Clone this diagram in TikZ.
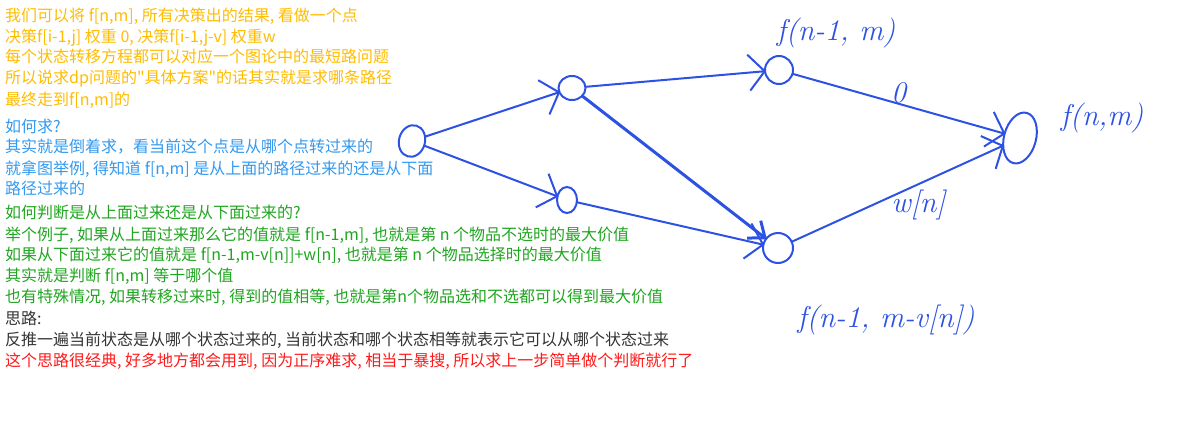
\documentclass[tikz,border=0pt]{standalone}
\usepackage{fontspec}
\newfontfamily\cjkfont{Noto Sans CJK SC}
\definecolor{noteOrange}{HTML}{FFBC00}
\definecolor{noteBlue}{HTML}{3399EE}
\definecolor{noteGreen}{HTML}{1FA51F}
\definecolor{noteGray}{HTML}{333333}
\definecolor{noteRed}{HTML}{FF1A1A}
\definecolor{penBlue}{HTML}{2D52E3}
\usetikzlibrary{
	arrows.meta,
	positioning,
	shapes.geometric
}

\begin{document}
\begin{tikzpicture}[x=1pt, y=-1pt,
		note/.style={anchor=base west, inner sep=0pt, font=\cjkfont\fontsize{16}{19}\selectfont},
		dot/.style={ellipse, draw=penBlue, line width=2pt, inner sep=0pt},
		pen/.style={-{Straight Barb[length=16pt,width=36pt]}, line width=2pt, draw=penBlue, line cap=round, shorten >=-2pt},
		hand/.style={text=penBlue, font=\itshape\fontsize{30}{30}\selectfont}
	]
		\useasboundingbox (0,0) rectangle (1182,444);
		% notes on the left
		\node[note, text=noteOrange] (o1) at (5,22) {我们可以将 f[n,m], 所有决策出的结果, 看做一个点};
		\node[note, text=noteOrange] (o2) at (5,42) {决策f[i-1,j] 权重 0, 决策f[i-1,j-v] 权重w};
		\node[note, text=noteOrange] (o3) at (5,63) {每个状态转移方程都可以对应一个图论中的最短路问题};
		\node[note, text=noteOrange] (o4) at (5,83) {所以说求dp问题的"具体方案"的话其实就是求哪条路径};
		\node[note, text=noteOrange] (o5) at (5,105) {最终走到f[n,m]的};
		\node[note, text=noteBlue] (b1) at (5,132) {如何求?};
		\node[note, text=noteBlue] (b2) at (5,152) {其实就是倒着求，看当前这个点是从哪个点转过来的};
		\node[note, text=noteBlue] (b3) at (5,174) {就拿图举例, 得知道 f[n,m] 是从上面的路径过来的还是从下面};
		\node[note, text=noteBlue] (b4) at (5,194) {路径过来的};
		\node[note, text=noteGreen] (g1) at (5,218) {如何判断是从上面过来还是从下面过来的?};
		\node[note, text=noteGreen] (g2) at (5,240) {举个例子, 如果从上面过来那么它的值就是 f[n-1,m], 也就是第 n 个物品不选时的最大价值};
		\node[note, text=noteGreen] (g3) at (5,260) {如果从下面过来它的值就是 f[n-1,m-v[n]]+w[n], 也就是第 n 个物品选择时的最大价值};
		\node[note, text=noteGreen] (g4) at (5,281) {其实就是判断 f[n,m] 等于哪个值};
		\node[note, text=noteGreen] (g5) at (5,302) {也有特殊情况, 如果转移过来时, 得到的值相等, 也就是第n个物品选和不选都可以得到最大价值};
		\node[note, text=noteGray] (s1) at (5,324) {思路:};
		\node[note, text=noteGray] (s2) at (5,345) {反推一遍当前状态是从哪个状态过来的, 当前状态和哪个状态相等就表示它可以从哪个状态过来};
		\node[note, text=noteRed] (r1) at (5,366) {这个思路很经典, 好多地方都会用到, 因为正序难求, 相当于暴搜, 所以求上一步简单做个判断就行了};
		% the graph
		\node[dot, minimum width=26pt, minimum height=32pt, rotate=-15] (start) at (412,141) {};
		\node[dot, minimum width=27pt, minimum height=24pt] (upper) at (572,88) {};
		\node[dot, minimum width=20pt, minimum height=26pt] (lower) at (567,200) {};
		\node[dot, minimum width=28pt, minimum height=28pt] (keep) at (779,70) {};
		\node[dot, minimum width=30pt, minimum height=30pt] (take) at (778,248) {};
		\node[dot, minimum width=32pt, minimum height=52pt, rotate=-15] (goal) at (1020,138) {};
		\node[hand] (keeplbl) at (836,33) {f(n-1, m)};
		\node[hand] (goallbl) at (1102,118) {f(n,m)};
		\node[hand] (takelbl) at (886,320) {f(n-1, m-v[n])};
		\draw[pen] (start) -- (upper);
		\draw[pen] (start) -- (lower);
		\draw[pen] (upper) -- (keep);
		\draw[pen, line width=3pt, -{Straight Barb[length=14pt,width=22pt]}] (upper) -- (take);
		\draw[pen] (lower) -- (take);
		\draw[pen] (keep) -- node[hand, above, inner sep=0pt] {0} (goal);
		\draw[pen] (take) -- node[hand, below, pos=0.6, inner sep=5pt] {w[n]} (goal);
	\end{tikzpicture}
\end{document}
